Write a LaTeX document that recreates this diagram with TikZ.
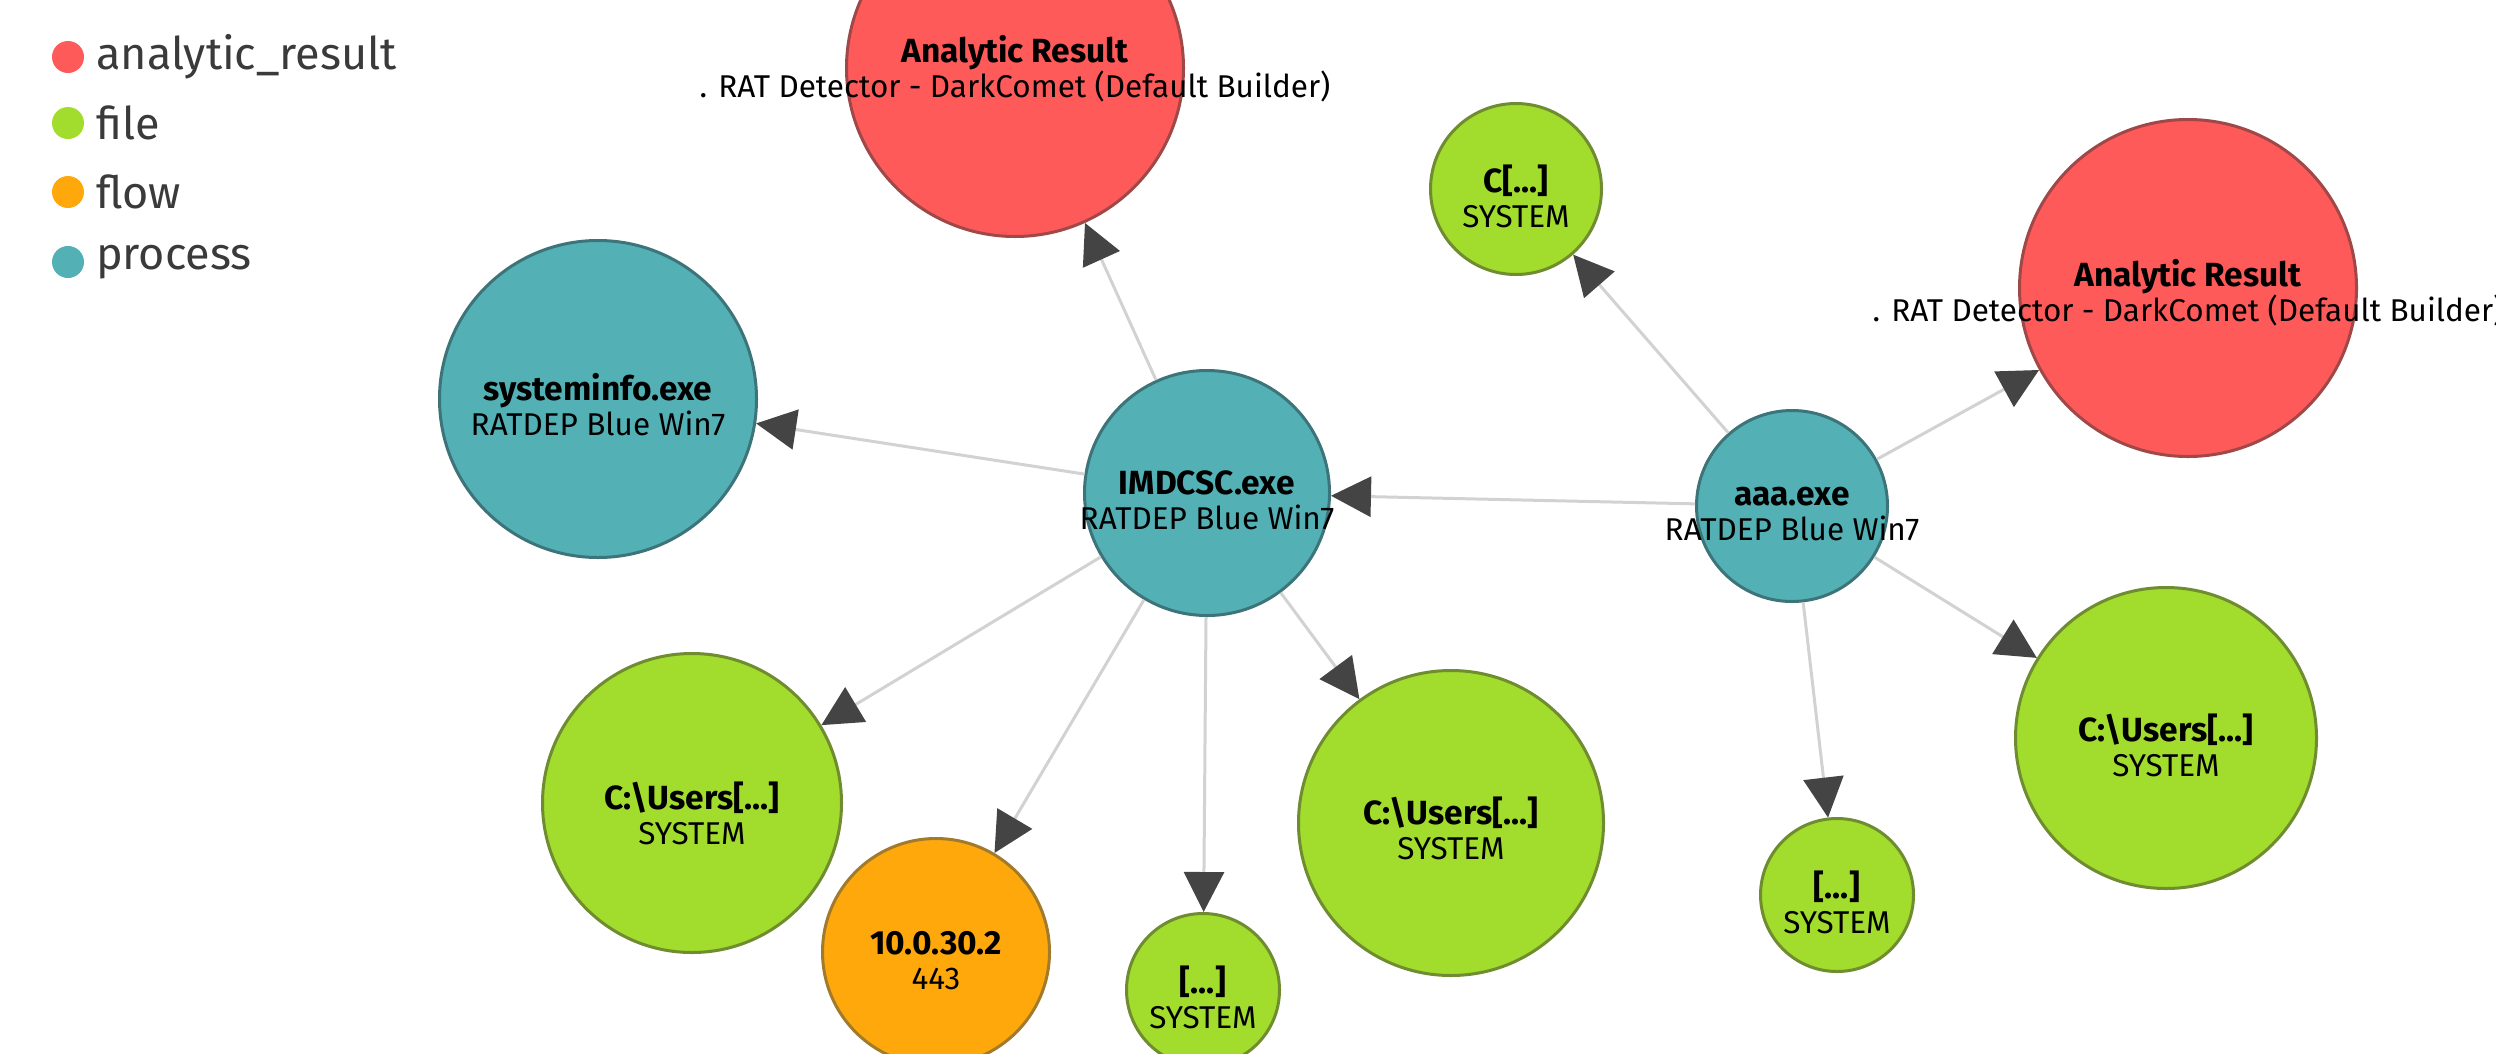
\documentclass[tikz,border=0pt]{standalone}
\usepackage{fontspec}
\setmainfont{Fira Sans}
\usetikzlibrary{arrows.meta}
\definecolor{arfill}{HTML}{FF5A5A}
\definecolor{arline}{HTML}{A04848}
\definecolor{filefill}{HTML}{A2DC2C}
\definecolor{fileline}{HTML}{6F8C30}
\definecolor{flowfill}{HTML}{FFA80C}
\definecolor{flowline}{HTML}{A27A2C}
\definecolor{procfill}{HTML}{53B1B6}
\definecolor{procline}{HTML}{3C7479}
\definecolor{edgegray}{HTML}{D2D2D2}
\definecolor{tipgray}{HTML}{444444}
\definecolor{legtext}{HTML}{3A3A3A}
\tikzset{
  base/.style={circle, draw, line width=3pt, inner sep=0pt},
  arnode/.style={base, fill=arfill, draw=arline},
  filenode/.style={base, fill=filefill, draw=fileline},
  flownode/.style={base, fill=flowfill, draw=flowline},
  procnode/.style={base, fill=procfill, draw=procline},
  lbl/.style={align=center, inner sep=0pt, text=black, font=\fontsize{31.5}{35}\selectfont},
  ttl/.style={},
  link/.style={draw=edgegray, line width=3pt, -{Triangle[length=40pt,width=40pt,color=tipgray]}},
  legdot/.style={circle, inner sep=0pt, minimum size=32pt},
  legtxt/.style={anchor=west, inner sep=0pt, text=legtext, font=\fontsize{45}{54}\selectfont},
}
\newcommand{\ttlfmt}[1]{{\fontsize{33.5}{35}\selectfont\bfseries #1}}
\begin{document}
\begin{tikzpicture}[x=1pt, y=-1pt]
\useasboundingbox (0,0) rectangle (2496,1053);
% nodes
\node[arnode, minimum size=337pt] (ar1) at (1015,68) {};
\node[arnode, minimum size=337pt] (ar2) at (2188,288) {};
\node[procnode, minimum size=317pt] (sysinfo) at (598,399) {};
\node[procnode, minimum size=245pt] (imdcsc) at (1207,493) {};
\node[procnode, minimum size=191pt] (aaa) at (1792,506) {};
\node[filenode, minimum size=171pt] (c1) at (1516,189) {};
\node[filenode, minimum size=301pt] (cu3) at (2166,738) {};
\node[filenode, minimum size=153pt] (f3) at (1837,895) {};
\node[filenode, minimum size=305pt] (cu2) at (1451,823) {};
\node[filenode, minimum size=153pt] (f2) at (1203,990) {};
\node[flownode, minimum size=227pt] (flow) at (936,952) {};
\node[filenode, minimum size=299pt] (cu1) at (692,803) {};
% edges
\draw[link] (imdcsc) -- (ar1);
\draw[link] (imdcsc) -- (sysinfo);
\draw[link] (imdcsc) -- (cu1);
\draw[link] (imdcsc) -- (flow);
\draw[link] (imdcsc) -- (f2);
\draw[link] (imdcsc) -- (cu2);
\draw[link] (aaa) -- (imdcsc);
\draw[link] (aaa) -- (c1);
\draw[link] (aaa) -- (ar2);
\draw[link] (aaa) -- (cu3);
\draw[link] (aaa) -- (f3);
% labels
\node[lbl] (ar1l) at (1015,69) {\ttlfmt{Analytic Result}\\. RAT Detector - DarkComet (Default Builder)};
\node[lbl] (ar2l) at (2188,293) {\ttlfmt{Analytic Result}\\. RAT Detector - DarkComet (Default Builder)};
\node[lbl] (sysinfol) at (598,405) {\ttlfmt{systeminfo.exe}\\RATDEP Blue Win7};
\node[lbl] (imdcscl) at (1207,500) {\ttlfmt{IMDCSC.exe}\\RATDEP Blue Win7};
\node[lbl] (aaal) at (1792,514) {\ttlfmt{aaa.exe}\\RATDEP Blue Win7};
\node[lbl] (c1l) at (1516,196) {\ttlfmt{C[...]}\\SYSTEM};
\node[lbl] (cu3l) at (2166,745) {\ttlfmt{C:\textbackslash Users[...]}\\SYSTEM};
\node[lbl] (f3l) at (1837,902) {\ttlfmt{[...]}\\SYSTEM};
\node[lbl] (cu2l) at (1451,828) {\ttlfmt{C:\textbackslash Users[...]}\\SYSTEM};
\node[lbl] (f2l) at (1203,997) {\ttlfmt{[...]}\\SYSTEM};
\node[lbl] (flowl) at (936,961) {\ttlfmt{10.0.30.2}\\443};
\node[lbl] (cu1l) at (692,813) {\ttlfmt{C:\textbackslash Users[...]}\\SYSTEM};
% legend
\node[legdot, fill=arfill] (lg1) at (68,57) {};
\node[legdot, fill=filefill] (lg2) at (68,123) {};
\node[legdot, fill=flowfill] (lg3) at (68,192) {};
\node[legdot, fill=procfill] (lg4) at (68,262) {};
\node[legtxt] (lt1) at (96,57) {analytic\_result};
\node[legtxt] (lt2) at (96,123) {file};
\node[legtxt] (lt3) at (96,192) {flow};
\node[legtxt] (lt4) at (96,262) {process};
\end{tikzpicture}
\end{document}
